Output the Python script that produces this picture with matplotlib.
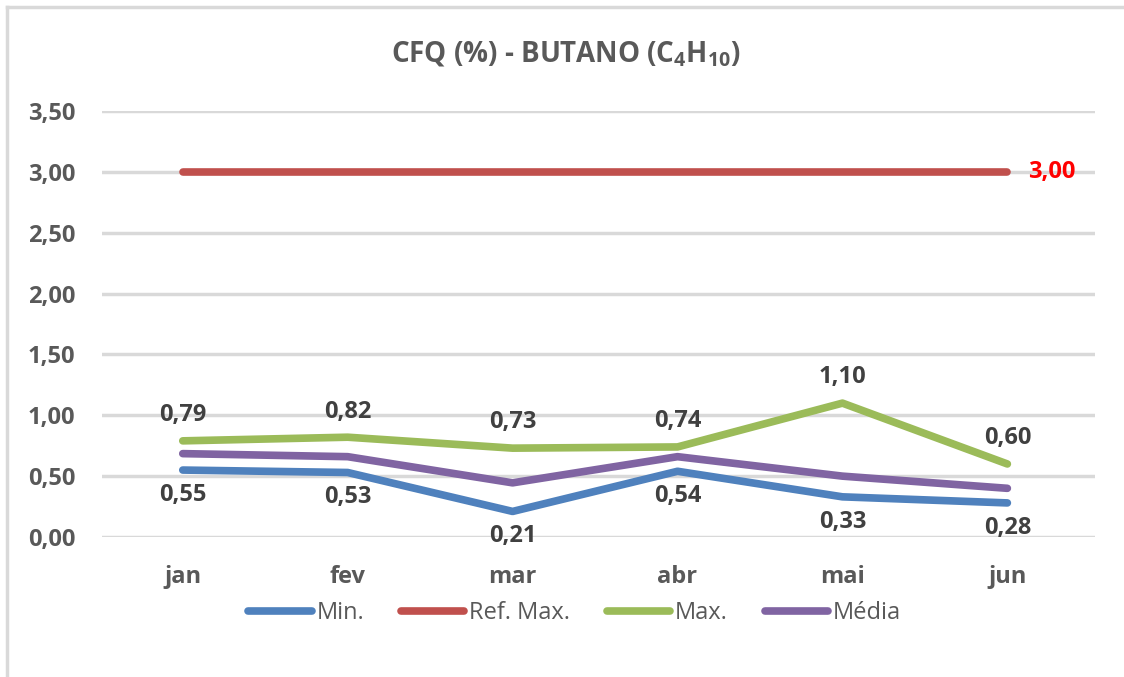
import matplotlib
matplotlib.use("Agg")
import matplotlib.pyplot as plt
from matplotlib.lines import Line2D

months = ["jan", "fev", "mar", "abr", "mai", "jun"]
min_vals = [0.55, 0.53, 0.21, 0.54, 0.33, 0.28]
ref_max = [3.00, 3.00, 3.00, 3.00, 3.00, 3.00]
max_vals = [0.79, 0.82, 0.73, 0.74, 1.10, 0.60]
media_vals = [0.685, 0.66, 0.445, 0.66, 0.50, 0.40]
yticks = [0.0, 0.5, 1.0, 1.5, 2.0, 2.5, 3.0, 3.5]

plt.rcParams['font.family'] = ['Open Sans', 'DejaVu Sans']
plt.rcParams['mathtext.fontset'] = 'custom'
plt.rcParams['mathtext.rm'] = 'Open Sans:bold'
plt.rcParams['mathtext.default'] = 'rm'

fmt = lambda v: f"{v:.2f}".replace(".", ",")

fig = plt.figure(figsize=(11.24, 6.77), dpi=100)
ax = fig.add_axes([0.0907, 0.2068, 0.974 - 0.0907, 0.836 - 0.2068])

# frame border
fig.add_artist(Line2D([7/1124, 7/1124], [0, 1 - 7/677], color="#d9d9d9", lw=2.5, transform=fig.transFigure))
fig.add_artist(Line2D([7/1124, 1], [1 - 7/677, 1 - 7/677], color="#d9d9d9", lw=2.5, transform=fig.transFigure))

x = list(range(len(months)))
series = [
    ("Min.", min_vals, "#4F81BD"),
    ("Ref. Max.", ref_max, "#C0504D"),
    ("Max.", max_vals, "#9BBB59"),
    ("Média", media_vals, "#8064A2"),
]
for name, vals, col in series:
    ax.plot(x, vals, color=col, lw=5.5, solid_capstyle="round", solid_joinstyle="round", label=name, zorder=3)

lab_kw = dict(ha="center", va="center", fontsize=17, fontweight="bold", color="#404040", textcoords="offset points")
for xi, v in zip(x, max_vals):
    ax.annotate(fmt(v), (xi, v), xytext=(0, 18.5), **lab_kw)
for xi, v in zip(x, min_vals):
    ax.annotate(fmt(v), (xi, v), xytext=(0, -18), **lab_kw)
ax.annotate(fmt(ref_max[-1]), (x[-1], ref_max[-1]), xytext=(15, 0), ha="left", va="center",
            fontsize=17, fontweight="bold", color="#FF0000", textcoords="offset points")

ax.set_xlim(-0.49, 5.53)
ax.set_ylim(0, 3.5)
ax.set_yticks(yticks)
ax.set_yticklabels([fmt(v) for v in yticks])
ax.set_xticks(x)
ax.set_xticklabels(months)
ax.grid(axis="y", color="#d9d9d9", lw=2.5, zorder=0)
ax.set_axisbelow(True)
for s in ax.spines.values():
    s.set_visible(False)
ax.tick_params(axis="both", length=0, labelsize=17, labelcolor="#595959")
ax.tick_params(axis="y", pad=19)
ax.tick_params(axis="x", pad=20)
for t in ax.get_xticklabels() + ax.get_yticklabels():
    t.set_fontweight("bold")

fig.text(0.503, 0.919, r"CFQ (%) - BUTANO (C$_4$H$_{10}$)", ha="center", va="center",
         fontsize=20, fontweight="bold", color="#595959")

leg = ax.legend(loc="center", bbox_to_anchor=(0.476, -0.178), ncol=4, frameon=False,
                fontsize=17, handlelength=2.7, handletextpad=0.2, columnspacing=1.55)
for t in leg.get_texts():
    t.set_color("#595959")

fig.savefig("out.png", dpi=100, facecolor="white")
